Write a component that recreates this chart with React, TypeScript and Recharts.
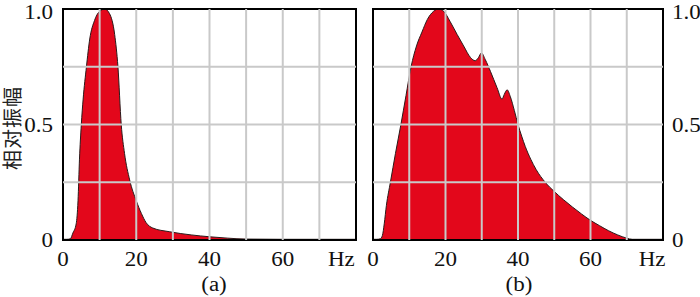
import React from 'react';
import { AreaChart, Area, XAxis, YAxis, ReferenceLine, ReferenceArea } from 'recharts';

const freqA = [0, 1, 2, 2.7, 3.6, 4.1, 4.5, 5.0, 5.5, 6.4, 7.3, 8.6, 10, 11.4, 12.7, 14.1, 15, 15.9, 16.8, 18.2, 20, 21.4, 22.7, 24.5, 29, 35, 40, 45, 50, 60, 70, 80];
const ampA = [0.003, 0.003, 0.005, 0.03, 0.07, 0.17, 0.35, 0.5, 0.61, 0.75, 0.87, 0.95, 0.99, 1.0, 0.98, 0.89, 0.75, 0.5, 0.375, 0.26, 0.17, 0.115, 0.075, 0.052, 0.036, 0.022, 0.014, 0.008, 0.004, 0.003, 0.003, 0.003];

const freqB = [0, 1, 2, 2.6, 3.1, 3.7, 4.8, 6.2, 7.7, 9.1, 10.5, 12, 13.5, 15, 16.7, 18.1, 19.5, 21.3, 23.2, 25, 26.9, 28.2, 29.1, 29.9, 31, 32.4, 34.2, 35.6, 36.2, 37, 37.9, 39, 40, 41, 42, 43.5, 45, 47.5, 50, 52.5, 55, 57.5, 60, 62.5, 65, 67.5, 70, 71.5, 75, 80];
const ampB = [0.003, 0.003, 0.005, 0.02, 0.07, 0.15, 0.25, 0.375, 0.5, 0.625, 0.75, 0.84, 0.9, 0.955, 0.99, 1.0, 0.99, 0.945, 0.89, 0.84, 0.79, 0.776, 0.79, 0.81, 0.78, 0.73, 0.66, 0.61, 0.63, 0.65, 0.62, 0.56, 0.5, 0.45, 0.405, 0.35, 0.305, 0.25, 0.21, 0.175, 0.143, 0.113, 0.085, 0.062, 0.04, 0.022, 0.008, 0.003, 0.003, 0.003];

const xTicks = [0, 20, 40, 60];
const hzTickA = 76;
const hzTickB = 77;
const yTicks = [0, 0.5, 1];
const gridX = [10, 20, 30, 40, 50, 60, 70];
const gridY = [0.25, 0.5, 0.75];
const yLabel = '相对振幅';
const captionA = '(a)';
const captionB = '(b)';

const dataA = freqA.map((f, i) => ({ f, v: ampA[i] }));
const dataB = freqB.map((f, i) => ({ f, v: ampB[i] }));

const FILL = '#e3071b';
const GRID = '#c9c9c9';
const SERIF = '"Liberation Serif", "Times New Roman", serif';
const STRETCH = 1.15;
const yFmt = (v: number) => (v === 0 ? '0' : v.toFixed(1));

function makeTick(fmt: (v: number) => string, dy: string, isY: boolean) {
  return (props: any) => {
    const { x, y, payload, textAnchor } = props;
    const shift = isY && payload.value === 1 ? 2.5 : 0;
    return (
      <text
        x={0}
        y={0}
        dy={dy}
        transform={`translate(${x},${y + shift}) scale(${STRETCH},1)`}
        textAnchor={textAnchor}
        fontFamily={SERIF}
        fontSize={20}
        fill="#111"
      >
        {fmt(payload.value)}
      </text>
    );
  };
}

function Panel({ data, hz, side }: { data: { f: number; v: number }[]; hz: number; side: 'left' | 'right' }) {
  const isLeft = side === 'left';
  const width = isLeft ? 360 : 340;
  const margin = isLeft ? { top: 9, right: 4, bottom: 27, left: 8 } : { top: 9, right: 0, bottom: 27, left: 13 };
  const xFmt = (v: number) => (v === hz ? 'Hz' : String(v));
  return (
    <AreaChart width={width} height={297} data={data} margin={margin}>
      <XAxis
        dataKey="f"
        type="number"
        domain={[0, 80]}
        ticks={[...xTicks, hz]}
        axisLine={false}
        tickLine={false}
        tickSize={0}
        tickMargin={12}
        height={30}
        interval={0}
        tick={makeTick(xFmt, '0.71em', false)}
        allowDataOverflow
      />
      <YAxis
        type="number"
        domain={[0, 1]}
        ticks={yTicks}
        orientation={side}
        axisLine={false}
        tickLine={false}
        tickSize={0}
        tickMargin={isLeft ? 10 : 9}
        width={isLeft ? 55 : 37}
        interval={0}
        tick={makeTick(yFmt, '0.355em', true)}
        allowDataOverflow
      />
      <Area
        type="monotone"
        dataKey="v"
        stroke="#2a1a1a"
        strokeWidth={1}
        fill={FILL}
        fillOpacity={1}
        isAnimationActive={false}
        dot={false}
        activeDot={false}
      />
      {gridX.map((g) => (
        <ReferenceLine key={'x' + g} x={g} stroke={GRID} strokeWidth={2} ifOverflow="visible" />
      ))}
      {gridY.map((g) => (
        <ReferenceLine key={'y' + g} y={g} stroke={GRID} strokeWidth={2} ifOverflow="visible" />
      ))}
      <ReferenceArea x1={0} x2={80} y1={0} y2={1} fill="none" stroke="#000" strokeWidth={2} ifOverflow="visible" />
    </AreaChart>
  );
}

export default function App() {
  const capStyle: React.CSSProperties = {
    position: 'absolute',
    top: 284,
    transform: `translate(-50%, -50%) scale(${STRETCH}, 1)`,
    fontFamily: SERIF,
    fontSize: 20,
    lineHeight: 1,
    color: '#111',
    whiteSpace: 'nowrap',
  };
  return (
    <div style={{ position: 'absolute', left: 0, top: 0, width: 700, height: 297, background: '#fff', overflow: 'hidden' }}>
      <div style={{ position: 'absolute', left: 0, top: 0 }}>
        <Panel data={dataA} hz={hzTickA} side="left" />
      </div>
      <div style={{ position: 'absolute', left: 360, top: 0 }}>
        <Panel data={dataB} hz={hzTickB} side="right" />
      </div>
      <svg width={30} height={297} style={{ position: 'absolute', left: 0, top: 0 }}>
        <text
          transform="translate(13,128) rotate(-90)"
          textAnchor="middle"
          dy="0.36em"
          fontFamily='"Noto Sans CJK SC", sans-serif'
          fontSize={20}
          letterSpacing={1}
          fill="#222"
        >
          {yLabel}
        </text>
      </svg>
      <div style={{ ...capStyle, left: 214 }}>{captionA}</div>
      <div style={{ ...capStyle, left: 519 }}>{captionB}</div>
    </div>
  );
}
